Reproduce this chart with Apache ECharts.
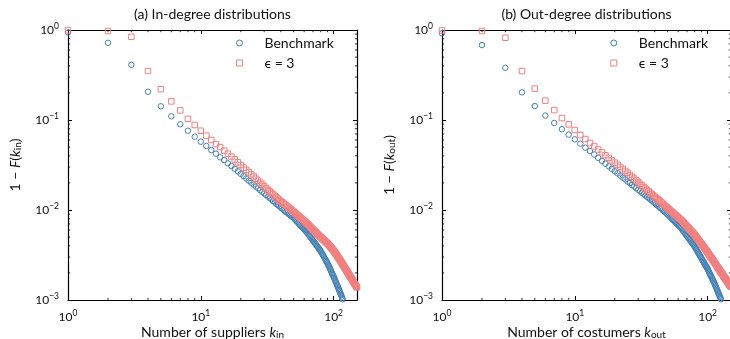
<!DOCTYPE html>
<html><head><meta charset="utf-8">
<script src="https://cdn.jsdelivr.net/npm/echarts@6/dist/echarts.min.js"></script>
<style>html,body{margin:0;padding:0;background:#fff}#c{width:730px;height:339px}</style>
</head><body><div id="c"></div>
<script>
// 1 - F(k) for k = 1, 2, 3, ... (one value per integer degree)
const inBenchmark = [0.94,0.72,0.41,0.206,0.142,0.11,0.0896,0.076,0.0652,0.0574,
0.0514,0.0464,0.0422,0.0385,0.0359,0.033,0.0308,0.0287,0.0269,0.0252,
0.0238,0.0224,0.0212,0.0201,0.0192,0.0182,0.0174,0.0166,0.0159,0.0153,
0.0147,0.0141,0.0136,0.0131,0.0126,0.0122,0.0117,0.0114,0.011,0.01065,
0.01035,0.01005,0.00977,0.00951,0.00925,0.00902,0.00877,0.00857,0.00836,0.00815,
0.00791,0.00766,0.00743,0.00721,0.0070,0.00681,0.00662,0.00644,0.00627,0.0061,
0.00593,0.00578,0.00564,0.00547,0.0053,0.00514,0.00499,0.00484,0.0047,0.00457,
0.00444,0.00432,0.0042,0.00409,0.00398,0.00387,0.00378,0.00368,0.00359,0.00348,
0.00337,0.00327,0.00316,0.00307,0.00298,0.00288,0.0028,0.00272,0.00264,0.00255,
0.00246,0.00238,0.0023,0.00222,0.00214,0.00207,0.002,0.00194,0.00188,0.00182,
0.00176,0.00169,0.00164,0.00158,0.00153,0.00148,0.00143,0.00138,0.00133,0.00129,
0.00125,0.00121,0.00117,0.00113,0.00109,0.00105,0.00102];
const inEps3 = [0.99,0.975,0.84,0.35,0.22,0.161,0.128,0.103,0.088,0.076,
0.067,0.06,0.054,0.05,0.0456,0.0422,0.0393,0.0364,0.0339,0.0316,
0.0296,0.0279,0.0263,0.0249,0.0236,0.0223,0.0212,0.0201,0.0192,0.0183,
0.0175,0.0167,0.0161,0.0155,0.0149,0.0144,0.0138,0.0134,0.0129,0.0125,
0.0122,0.0118,0.0115,0.0112,0.0109,0.0106,0.0103,0.0101,0.00982,0.00957,
0.00933,0.0091,0.00887,0.00867,0.00845,0.00826,0.00807,0.00791,0.00773,0.00755,
0.0074,0.00724,0.0071,0.00693,0.00678,0.00662,0.00647,0.00632,0.00619,0.00605,
0.00593,0.00581,0.00569,0.00557,0.00546,0.00536,0.00525,0.00515,0.00506,0.00497,
0.00489,0.00481,0.00473,0.00466,0.00458,0.00451,0.00444,0.00438,0.00431,0.00425,
0.00418,0.0041,0.00403,0.00395,0.00388,0.00381,0.00374,0.00367,0.00361,0.00355,
0.00347,0.0034,0.00333,0.00326,0.00318,0.00312,0.00305,0.00299,0.00294,0.00288,
0.00282,0.00277,0.00271,0.00265,0.00259,0.00254,0.00249,0.00244,0.00239,0.00234,
0.0023,0.00225,0.00221,0.00217,0.00212,0.00208,0.00205,0.00201,0.00197,0.00194,
0.0019,0.00187,0.00183,0.0018,0.00177,0.00174,0.00171,0.00167,0.00165,0.00162,
0.00159,0.00157,0.00154,0.00151,0.00149,0.00147,0.00145,0.00142,0.0014,0.00138];
const outBenchmark = [0.92,0.68,0.38,0.203,0.143,0.112,0.0926,0.079,0.0687,0.061,
0.0546,0.0493,0.0453,0.0414,0.038,0.0352,0.0327,0.0305,0.0286,0.0269,
0.0255,0.0241,0.0229,0.0218,0.0207,0.0199,0.019,0.0182,0.0175,0.0168,
0.0162,0.0156,0.0151,0.0145,0.014,0.0136,0.0131,0.0127,0.0123,0.0119,
0.0116,0.0112,0.0109,0.0105,0.0103,0.00995,0.00968,0.00942,0.00918,0.00893,
0.00869,0.00843,0.00819,0.00796,0.00774,0.00755,0.00735,0.00716,0.00698,0.00681,
0.00664,0.00647,0.00632,0.00614,0.00594,0.00577,0.0056,0.00543,0.00527,0.00513,
0.00498,0.00484,0.00471,0.00459,0.00447,0.00435,0.00424,0.00413,0.00403,0.00391,
0.00378,0.00367,0.00356,0.00345,0.00335,0.00325,0.00316,0.00306,0.00298,0.0029,
0.00281,0.00274,0.00266,0.00259,0.00252,0.00245,0.00239,0.00233,0.00227,0.00221,
0.00215,0.00208,0.00202,0.00196,0.0019,0.00185,0.00179,0.00174,0.00169,0.00165,
0.0016,0.00156,0.00151,0.00146,0.00142,0.00137,0.00133,0.00129,0.00125,0.00122,
0.00118,0.00115,0.00111,0.00108,0.00105,0.00102,0.00099];
const outEps3 = [0.99,0.975,0.82,0.35,0.223,0.164,0.129,0.105,0.0895,0.0774,
0.068,0.0615,0.0556,0.0509,0.047,0.0437,0.0406,0.038,0.0356,0.0336,
0.0317,0.0301,0.0285,0.0272,0.0259,0.0245,0.0234,0.0223,0.0213,0.0204,
0.0195,0.0187,0.018,0.0173,0.0167,0.0161,0.0155,0.015,0.0145,0.014,
0.0136,0.0132,0.0128,0.0124,0.0121,0.0117,0.0114,0.0111,0.0108,0.0105,
0.0102,0.00998,0.00973,0.00951,0.00927,0.00906,0.00885,0.00867,0.00847,0.00828,
0.00811,0.00794,0.00778,0.00759,0.0074,0.00723,0.00705,0.00689,0.00673,0.00658,
0.00643,0.00628,0.00615,0.00601,0.00589,0.00577,0.00565,0.00553,0.00542,0.0053,
0.00516,0.00504,0.00492,0.0048,0.00469,0.00458,0.00448,0.00438,0.00428,0.00419,
0.00409,0.004,0.00392,0.00384,0.00376,0.00367,0.0036,0.00353,0.00346,0.00339,
0.00332,0.00324,0.00318,0.00311,0.00304,0.00298,0.00292,0.00286,0.00281,0.00275,
0.00269,0.00264,0.00259,0.00254,0.00249,0.00244,0.0024,0.00235,0.00231,0.00227,
0.00223,0.00219,0.00215,0.00211,0.00207,0.00204,0.002,0.00197,0.00194,0.00191,
0.00187,0.00184,0.00181,0.00178,0.00175,0.00173,0.0017,0.00167,0.00165,0.00162,
0.0016,0.00157,0.00155,0.00152,0.0015,0.00148,0.00146,0.00144,0.00142,0.0014];

const seriesNames = ['Benchmark', '\u03f5 = 3'];
const panelTitles = ['(a) In-degree distributions', '(b) Out-degree distributions'];
const xNames = ['Number of suppliers ', 'Number of costumers '];
const subs = ['in', 'out'];
const xDecades = [1, 10, 100];
const xTickExp = ['0', '1', '2'];
const yDecades = [0.001, 0.01, 0.1, 1];
const yTickExp = ['\u22123', '\u22122', '\u22121', '0'];
const xMinorTicks = [2,3,4,5,6,7,8,9,20,30,40,50,60,70,80,90];
const yMinorTicks = [0.002,0.003,0.004,0.005,0.006,0.007,0.008,0.009,0.02,0.03,0.04,0.05,0.06,0.07,0.08,0.09,0.2,0.3,0.4,0.5,0.6,0.7,0.8,0.9];

const X_MIN = 1, X_MAX = 150, Y_MIN = 0.001, Y_MAX = 1;
const BLUE = '#4682b4', RED = '#f08080';
const FONT = 'Lato';
const panels = [[inBenchmark, inEps3], [outBenchmark, outEps3]];
const gridLefts = [68, 442];

function labelFrom(decades, exps) {
  return function (v) {
    for (let i = 0; i < decades.length; i++) {
      if (Math.abs(Math.log10(v) - Math.log10(decades[i])) < 1e-6) return '{b|10}{s|' + exps[i] + '}';
    }
    return '';
  };
}
const tickRich = {
  b: { fontSize: 12, fontFamily: FONT, color: '#111' },
  s: { fontSize: 8.5, fontFamily: FONT, color: '#111', padding: [0, 0, 7, 0] }
};
const nameRich = {
  t: { fontSize: 14, fontFamily: FONT, color: '#111' },
  i: { fontSize: 14, fontFamily: FONT, color: '#111', fontStyle: 'italic' },
  sub: { fontSize: 10, fontFamily: FONT, color: '#111', padding: [6, 0, 0, 0] }
};
const axisLine = { show: true, onZero: false, lineStyle: { color: '#000', width: 1.2 } };
const majorTick = { show: true, inside: true, length: 4, lineStyle: { color: '#000', width: 1 } };

const grid = [], xAxis = [], yAxis = [], series = [], title = [], legend = [];
const symbols = ['circle', 'rect'];
const colors = [BLUE, RED];
panels.forEach((pair, p) => {
  grid.push({ left: gridLefts[p], top: 30, width: 289, height: 270, containLabel: false, outerBoundsMode: 'none' });
  const cx = gridLefts[p] + 289 / 2;
  title.push({ text: panelTitles[p], left: cx, top: 7, textAlign: 'center', padding: 0,
    textStyle: { fontFamily: FONT, fontSize: 14, fontWeight: 'normal', color: '#111' } });
  xAxis.push({ gridIndex: p, type: 'log', logBase: 10, min: X_MIN, max: X_MAX, position: 'bottom',
    axisLine, axisTick: majorTick, splitLine: { show: false },
    axisLabel: { formatter: labelFrom(xDecades, xTickExp), rich: tickRich, margin: 9, showMaxLabel: false },
    name: '{t|' + xNames[p] + '}{i|k}{sub|' + subs[p] + '}', nameLocation: 'middle', nameGap: 24,
    nameMoveOverlap: false, nameTextStyle: { rich: nameRich } });
  xAxis.push({ gridIndex: p, type: 'log', logBase: 10, min: X_MIN, max: X_MAX, position: 'top',
    axisLine, axisTick: majorTick, splitLine: { show: false }, axisLabel: { show: false } });
  yAxis.push({ gridIndex: p, type: 'log', logBase: 10, min: Y_MIN, max: Y_MAX, position: 'left',
    axisLine, axisTick: majorTick, splitLine: { show: false },
    axisLabel: { formatter: labelFrom(yDecades, yTickExp), rich: tickRich, margin: 9 },
    name: '{t|1 \u2212 }{i|F}{t|(}{i|k}{sub|' + subs[p] + '}{t|)}', nameLocation: 'middle', nameGap: 45, nameRotate: 90,
    nameMoveOverlap: false, nameTextStyle: { rich: nameRich } });
  yAxis.push({ gridIndex: p, type: 'log', logBase: 10, min: Y_MIN, max: Y_MAX, position: 'right',
    axisLine, axisTick: majorTick, splitLine: { show: false }, axisLabel: { show: false } });

  const xi = 2 * p, yi = 2 * p;
  pair.forEach((vals, s) => {
    series.push({ type: 'scatter', name: seriesNames[s], xAxisIndex: xi, yAxisIndex: yi,
      symbol: symbols[s], symbolSize: 5.5, symbolKeepAspect: true,
      itemStyle: { color: 'rgba(0,0,0,0)', borderColor: colors[s], borderWidth: 1, opacity: 1 },
      emphasis: { disabled: true },
      data: vals.map((v, i) => [i + 1, v]) });
  });
  // minor ticks (inward, on all four sides)
  series.push({ type: 'custom', xAxisIndex: xi, yAxisIndex: yi, silent: true, clip: false,
    data: xMinorTicks.map(v => [v, Y_MIN]),
    renderItem: (params, api) => {
      const b = api.coord([api.value(0), Y_MIN]), t = api.coord([api.value(0), Y_MAX]);
      const st = { stroke: '#000', lineWidth: 0.8 };
      return { type: 'group', children: [
        { type: 'line', shape: { x1: b[0], y1: b[1], x2: b[0], y2: b[1] - 2.2 }, style: st },
        { type: 'line', shape: { x1: t[0], y1: t[1], x2: t[0], y2: t[1] + 2.2 }, style: st } ] };
    } });
  series.push({ type: 'custom', xAxisIndex: xi, yAxisIndex: yi, silent: true, clip: false,
    data: yMinorTicks.map(v => [X_MIN, v]),
    renderItem: (params, api) => {
      const l = api.coord([X_MIN, api.value(1)]), r = api.coord([X_MAX, api.value(1)]);
      const st = { stroke: '#000', lineWidth: 0.8 };
      return { type: 'group', children: [
        { type: 'line', shape: { x1: l[0], y1: l[1], x2: l[0] + 2.2, y2: l[1] }, style: st },
        { type: 'line', shape: { x1: r[0], y1: r[1], x2: r[0] - 2.2, y2: r[1] }, style: st } ] };
    } });
  legend.push({ orient: 'vertical', left: [236, 610.3][p], top: 36, padding: 0,
    itemWidth: 6, itemHeight: 6, itemGap: 6, selectedMode: false,
    data: seriesNames.map((n, s) => ({ name: n, icon: symbols[s],
      itemStyle: { color: 'rgba(0,0,0,0)', borderColor: colors[s], borderWidth: 1 } })),
    textStyle: { fontFamily: FONT, fontSize: 14, lineHeight: 14, color: '#111', padding: [0, 0, 0, 17] } });
});

const chart = echarts.init(document.getElementById('c'), null, { renderer: 'canvas' });
chart.setOption({ animation: false, backgroundColor: '#fff', title, legend, grid, xAxis, yAxis, series });
</script></body></html>
